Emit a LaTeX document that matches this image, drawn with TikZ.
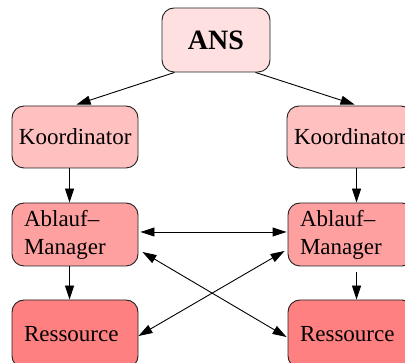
\documentclass[tikz,border=0pt]{standalone}
\usepackage{fontspec}
\setmainfont{Liberation Serif}
\usetikzlibrary{arrows.meta}
\definecolor{ansfill}{HTML}{FFE0E0}
\definecolor{kofill}{HTML}{FFC0C0}
\definecolor{abfill}{HTML}{FFA0A0}
\definecolor{refill}{HTML}{FF8080}
\definecolor{edge}{HTML}{222222}
\tikzset{
  box/.style={draw=edge, line width=0.9pt, rounded corners=12pt, rectangle,
    font=\fontsize{23}{28}\selectfont, align=left, inner ysep=0pt},
  kobox/.style={box, fill=kofill, inner xsep=7pt, text width=112pt, minimum height=62pt},
  abbox/.style={box, fill=abfill, inner xsep=12pt, text width=102pt, minimum height=63pt},
  rebox/.style={box, fill=refill, inner xsep=12pt, text width=102pt, minimum height=68pt},
  link/.style={draw=black, line width=0.9pt, -{Triangle[length=14pt,width=9pt]}},
  duplex/.style={link, {Triangle[length=14pt,width=9pt]}-{Triangle[length=14pt,width=9pt]}}
}
\begin{document}
\begin{tikzpicture}[x=1pt,y=-1pt]
  \useasboundingbox (0,0) rectangle (405,363);
  \clip (0,0) rectangle (405,363);

  % nodes
  \node[box, fill=ansfill, minimum width=108pt, minimum height=64pt, align=center,
        font=\fontsize{28}{32}\selectfont\bfseries] (ans) at (216,40) {ANS};
  \node[kobox] (k1) at (75,137) {Koordinator};
  \node[kobox] (k2) at (350,137) {Koordinator};
  \node[abbox] (a1) at (75,234.5) {Ablauf--\\Manager};
  \node[abbox] (a2) at (351,234.5) {Ablauf--\\Manager};
  \node[rebox] (r1) at (75,334) {Ressource};
  \node[rebox] (r2) at (351,334) {Ressource};

  % connectors
  \draw[link] ([shift={(13,0)}]ans.south west) -- ([shift={(65,-1)}]k1.north west);
  \draw[link] ([shift={(-15,0)}]ans.south east) -- ([shift={(68,-1)}]k2.north west);
  \draw[link] ([shift={(58,0)}]k1.south west) -- ([shift={(58,0)}]a1.north west);
  \draw[link] ([shift={(70,0)}]k2.south west) -- ([shift={(69,0)}]a2.north west);
  \draw[link] ([shift={(58,0)}]a1.south west) -- ([shift={(58,0)}]r1.north west);
  \draw[link] ([shift={(69,6)}]a2.south west) -- ([shift={(69,0)}]r2.north west);
  \draw[duplex] ([shift={(2,-2.5)}]a1.east) -- ([shift={(-1,-2.5)}]a2.west);
  \draw[duplex] ([shift={(4,17.5)}]a1.east) -- ([shift={(-1,3)}]r2.west);
  \draw[duplex] ([shift={(-3,16.5)}]a2.west) -- ([shift={(0,2)}]r1.east);
\end{tikzpicture}
\end{document}
